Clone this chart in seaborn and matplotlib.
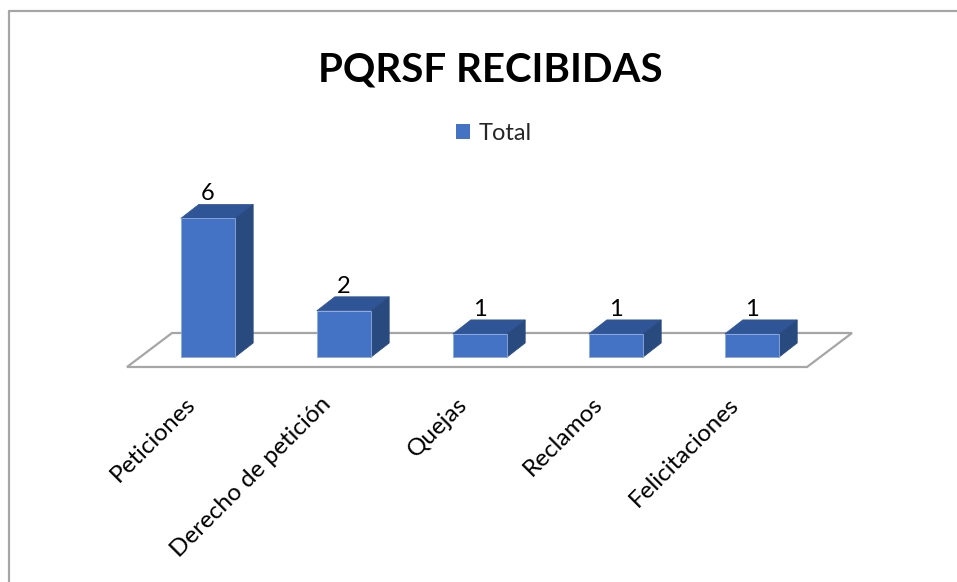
"""
PQRSF recibidas - pseudo 3D column chart (Excel look) built on a seaborn barplot.
"""

import pandas as pd
import matplotlib
matplotlib.use("Agg")
import matplotlib.pyplot as plt
import matplotlib.transforms as mtransforms
from matplotlib.lines import Line2D
from matplotlib.patches import Polygon, Rectangle
import seaborn as sns

# data
categories = ["Peticiones", "Derecho de petición", "Quejas", "Reclamos", "Felicitaciones"]
totals = [6, 2, 1, 1, 1]
series_name = "Total"
title = "PQRSF RECIBIDAS"

# colours
FRONT = "#4472C4"
TOP = "#2F5597"
SIDE = "#284A7E"
FLOOR_EDGE = "#A6A6A6"

W, H, DPI = 957, 582, 100

sns.set_theme(style="white")
plt.rcParams["font.family"] = ["Lato", "DejaVu Sans"]

fig = plt.figure(figsize=(W / DPI, H / DPI), dpi=DPI)

# plot area in pixels (left, top, right, bottom)
ax_l, ax_t, ax_r, ax_b = 100, 150, 900, 367
ax = fig.add_axes([ax_l / W, (H - ax_b) / H, (ax_r - ax_l) / W, (ax_b - ax_t) / H])

df = pd.DataFrame({"categoria": categories, "total": totals})
sns.barplot(data=df, x="categoria", y="total", order=categories, color=FRONT,
            saturation=1, width=0.4, edgecolor="#8FAADC", linewidth=0.6, ax=ax, zorder=3)

xmin, xmax = -0.794, 5.088
ymin, ymax = -0.433, 8.961
ax.set_xlim(xmin, xmax)
ax.set_ylim(ymin, ymax)

# pixel -> data unit conversion
px_x = (xmax - xmin) / (ax_r - ax_l)
px_y = (ymax - ymin) / (ax_b - ax_t)

# depth of the bars and of the floor (in pixels)
bar_dx, bar_dy = 18 * px_x, 14 * px_y
floor_front = (-13 * px_x, -10 * px_y)
floor_back = (32 * px_x, 24 * px_y)

n = len(categories)
floor = Polygon([(-0.5 + floor_front[0], floor_front[1]),
                 (n - 0.5 + floor_front[0], floor_front[1]),
                 (n - 0.5 + floor_back[0], floor_back[1]),
                 (-0.5 + floor_back[0], floor_back[1])],
                closed=True, facecolor="white", edgecolor=FLOOR_EDGE, linewidth=1.6,
                zorder=1, clip_on=False)
ax.add_patch(floor)

# top and side faces for every bar
for bar, val in zip(list(ax.patches)[:n], totals):
    x0, w, h = bar.get_x(), bar.get_width(), bar.get_height()
    top = Polygon([(x0, h), (x0 + w, h), (x0 + w + bar_dx, h + bar_dy), (x0 + bar_dx, h + bar_dy)],
                  closed=True, facecolor=TOP, edgecolor=TOP, linewidth=0.5, zorder=2, clip_on=False)
    side = Polygon([(x0 + w, 0), (x0 + w + bar_dx, bar_dy), (x0 + w + bar_dx, h + bar_dy), (x0 + w, h)],
                   closed=True, facecolor=SIDE, edgecolor=SIDE, linewidth=0.5, zorder=2, clip_on=False)
    ax.add_patch(top)
    ax.add_patch(side)
    ax.text(x0 + w / 2, h + bar_dy + 4 * px_y, str(val), ha="center", va="baseline",
            fontsize=17, color="black")

# axes cosmetics
for s in ax.spines.values():
    s.set_visible(False)
ax.set_xlabel("")
ax.set_ylabel("")
ax.set_yticks([])
ax.tick_params(axis="x", length=0, pad=19, labelsize=17.5, labelcolor="black")
ax.set_xticks(range(n))
ax.set_xticklabels(categories, rotation=45, ha="right")
shift = mtransforms.ScaledTranslation(-9 / DPI, 0, fig.dpi_scale_trans)
for lab in ax.get_xticklabels():
    lab.set_transform(lab.get_transform() + shift)
ax.patch.set_alpha(0)

# title and legend
fig.text(490 / W, 1 - 82 / H, title, ha="center", va="baseline",
         fontsize=29, fontweight="bold", color="black")
handle = Rectangle((0, 0), 1, 1, facecolor=FRONT, edgecolor="none")
fig.legend([handle], [series_name], loc="center", bbox_to_anchor=(494 / W, 1 - 133 / H),
           frameon=False, fontsize=17, handlelength=0.6, handleheight=0.6, handletextpad=0.35)

# chart border (only left and top edges fall inside the picture)
fig.add_artist(Line2D([9 / W, 9 / W], [0, 1 - 11 / H], transform=fig.transFigure,
                      color="#A6A6A6", linewidth=1.6))
fig.add_artist(Line2D([9 / W, 1], [1 - 11 / H, 1 - 11 / H], transform=fig.transFigure,
                      color="#A6A6A6", linewidth=1.6))

fig.savefig("out.png", dpi=DPI, facecolor="white")
